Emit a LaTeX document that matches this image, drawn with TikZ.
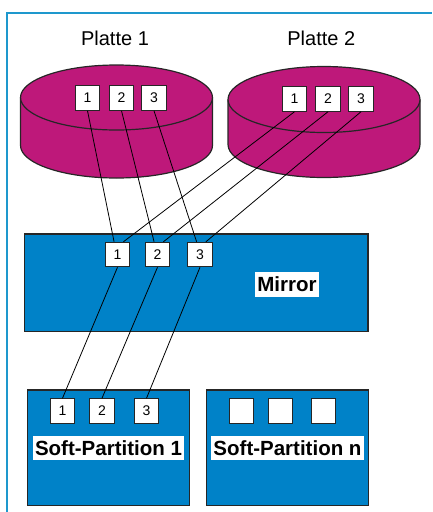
\documentclass[tikz,border=0pt]{standalone}
\usepackage{fontspec}
\setmainfont{Liberation Sans}
\definecolor{plattemag}{RGB}{190,24,122}
\definecolor{partblue}{RGB}{0,130,200}
\definecolor{rahmen}{RGB}{30,152,205}

\begin{document}
\begin{tikzpicture}[x=1pt,y=-1pt,
	slot/.style={draw=black!85,fill=white,line width=1pt,minimum size=24.5pt,inner sep=0pt,font=\fontsize{14}{16}\selectfont},
	block/.style={draw=black!85,fill=partblue,line width=1.2pt,inner sep=0pt},
	tag/.style={fill=white,inner xsep=2pt,inner ysep=0pt,minimum height=24.5pt,font=\fontsize{20.5}{24}\selectfont\bfseries},
	title/.style={anchor=base,font=\fontsize{20}{24}\selectfont},
	disk/.style={draw=black!85,fill=plattemag,line width=1.2pt},
	wire/.style={line width=0.8pt}]
	\useasboundingbox (0,0) rectangle (432,512);
	\draw[rahmen,line width=2pt] (7,512) -- (7,13) -- (432,13);

	\node[title] (t1) at (115,45) {Platte 1};
	\node[title] (t2) at (321.3,45) {Platte 2};
	\foreach \cx/\cy/\ry/\h in {116.5/97.5/32.5/48, 324/99.5/33/45}{
		\draw[disk] (\cx-96,\cy) -- ++(0,\h) arc[start angle=180,end angle=0,x radius=96,y radius=\ry] -- ++(0,-\h);
		\draw[disk] (\cx,\cy) ellipse[x radius=96,y radius=\ry];
	}

	\node[block,minimum width=343.5pt,minimum height=97.5pt] (mirror) at (196.25,282.75) {};
	\node[tag] (mirrortag) at (287,284.5) {Mirror};
	\node[block,minimum width=162pt,minimum height=115.7pt] (sp1) at (108.5,447.85) {};
	\node[tag] (sp1tag) at (108.5,448) {Soft-Partition 1};
	\node[block,minimum width=162pt,minimum height=115.7pt] (spn) at (287.5,447.85) {};
	\node[tag] (spntag) at (287.5,448) {Soft-Partition n};

	\foreach \x [count=\i] in {87.5,121.5,154} \node[slot] (pa\i) at (\x,98) {\i};
	\foreach \x [count=\i] in {294.5,328,361} \node[slot] (pb\i) at (\x,99) {\i};
	\foreach \x [count=\i] in {117.5,157.5,200} \node[slot] (m\i) at (\x,254.5) {\i};
	\foreach \x [count=\i] in {62.5,102,146.5} \node[slot] (s\i) at (\x,411) {\i};
	\foreach \x [count=\i] in {241.5,280.5,323.5} \node[slot] (n\i) at (\x,411) {};

	\foreach \i in {1,2,3}{
		\draw[wire] (pa\i.south) -- (m\i.105);
		\draw[wire] (pb\i.south) -- (m\i.65);
		\draw[wire] (m\i.south) -- (s\i.north);
	}
\end{tikzpicture}
\end{document}
